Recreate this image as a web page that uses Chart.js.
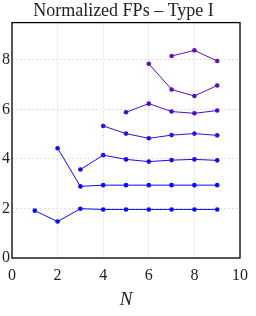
<!DOCTYPE html>
<html>
<head>
<meta charset="utf-8">
<script src="https://cdn.jsdelivr.net/npm/chart.js@4/dist/chart.umd.min.js"></script>
<style>
html,body{margin:0;padding:0;background:#fff;}
#wrap{width:256px;height:316px;}
</style>
</head>
<body>
<div id="wrap"><canvas id="c" width="256" height="316"></canvas></div>
<script>
const N = [1, 2, 3, 4, 5, 6, 7, 8, 9];
const s1 = [1.91, 1.47, 1.99, 1.96, 1.96, 1.96, 1.96, 1.96, 1.96];
const s2 = [null, 4.43, 2.89, 2.94, 2.94, 2.94, 2.94, 2.94, 2.94];
const s3 = [null, null, 3.57, 4.15, 3.98, 3.89, 3.95, 3.98, 3.94];
const s4 = [null, null, null, 5.33, 5.02, 4.83, 4.96, 5.02, 4.95];
const s5 = [null, null, null, null, 5.88, 6.23, 5.91, 5.84, 5.95];
const s6 = [null, null, null, null, null, 7.84, 6.80, 6.54, 6.96];
const s7 = [null, null, null, null, null, null, 8.15, 8.38, 7.95];
const xTicks = [0, 2, 4, 6, 8, 10];
const yTicks = [0, 2, 4, 6, 8];
const seriesList = [s1, s2, s3, s4, s5, s6, s7];
const colors = ['#0a0aff', '#0a0aff', '#2208ee', '#3a0cdc', '#4a0ccc', '#5a0ec0', '#6410b4'];

const datasets = seriesList.map((s, i) => ({
  data: N.map((n, j) => ({x: n, y: s[j]})).filter(p => p.y !== null),
  borderColor: colors[i],
  backgroundColor: colors[i],
  borderWidth: 1,
  pointRadius: 2.3,
  pointBorderWidth: 0,
  pointHoverRadius: 2.3,
  tension: 0,
  fill: false
}));

const frame = {
  id: 'frame',
  afterDraw(chart) {
    const a = chart.chartArea, ctx = chart.ctx;
    ctx.save();
    ctx.strokeStyle = '#000';
    ctx.lineWidth = 1.3;
    ctx.strokeRect(a.left, a.top, a.right - a.left, a.bottom - a.top);
    ctx.restore();
  }
};

const serif = "'Liberation Serif', 'DejaVu Serif', serif";

new Chart(document.getElementById('c'), {
  type: 'line',
  data: {datasets},
  plugins: [frame],
  options: {
    responsive: false,
    animation: false,
    devicePixelRatio: 1,
    layout: {padding: {left: 0, right: 9, top: 0, bottom: 0}},
    plugins: {
      legend: {display: false},
      tooltip: {enabled: false},
      title: {
        display: true,
        text: 'Normalized FPs – Type I',
        color: '#222',
        font: {family: serif, size: 18, weight: 'normal'},
        padding: {top: 0, bottom: 1}
      }
    },
    scales: {
      x: {
        type: 'linear',
        min: 0, max: 10,
        afterBuildTicks(scale) { scale.ticks = xTicks.map(v => ({value: v})); },
        afterFit(scale) { scale.height = 58; },
        ticks: {color: '#222', font: {family: serif, size: 16}, padding: 8, maxRotation: 0},
        grid: {color: '#e0e0e0', drawTicks: false, tickLength: 0},
        border: {display: false, dash: [2, 2]},
        title: {display: true, text: 'N', color: '#222', font: {family: serif, size: 19, style: 'italic'}, padding: {top: 4, bottom: 5}}
      },
      y: {
        type: 'linear',
        min: 0, max: 9.5,
        afterBuildTicks(scale) { scale.ticks = yTicks.map(v => ({value: v})); },
        afterFit(scale) { scale.width = 11; },
        ticks: {color: '#222', font: {family: serif, size: 16}, padding: 2},
        grid: {color: '#e0e0e0', drawTicks: false, tickLength: 0},
        border: {display: false, dash: [2, 2]}
      }
    }
  }
});
</script>
</body>
</html>
